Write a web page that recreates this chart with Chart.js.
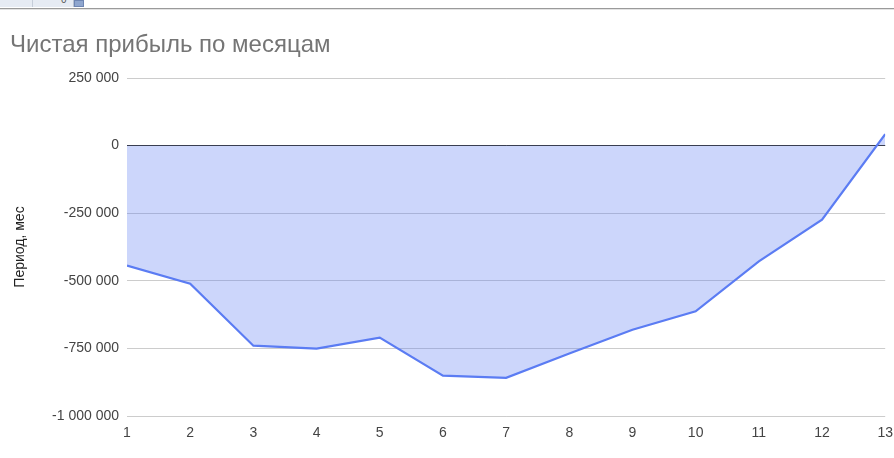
<!DOCTYPE html>
<html>
<head>
<meta charset="utf-8">
<script src="https://cdn.jsdelivr.net/npm/chart.js@4"></script>
<style>
  body { margin: 0; background: #fff; }
  #wrap { position: relative; width: 894px; height: 458px; overflow: hidden; }
  #cv { position: absolute; left: 0; top: 0; }
  /* scrap of the sheet toolbar above the chart */
  #bar { position: absolute; left: 0; top: 0; width: 73px; height: 7px; background: #e6ebf3; border-right: 1px solid #b9c3d3; }
  #bar .div1 { position: absolute; left: 32px; top: 0; width: 1px; height: 7px; background: #c5cdd9; }
  #bar .zero { position: absolute; left: 61px; top: -6px; font: 10px Arial; color: #555; }
  #knob { position: absolute; left: 74px; top: 0; width: 10px; height: 7px; background: #8fa6cf; border: 1px solid #6f86b3; box-sizing: border-box; }
  #rule { position: absolute; left: 0; top: 8px; width: 894px; height: 1px; background: #9a9a9a; }
  #rule2 { position: absolute; left: 0; top: 9px; width: 894px; height: 1px; background: #e3e3e3; }
  #title { position: absolute; left: 10px; top: 32px; font: 24px Arial, "Liberation Sans", sans-serif; color: #757575; line-height: 24px; }
</style>
</head>
<body>
<div id="wrap">
  <canvas id="cv" width="894" height="458"></canvas>
  <div id="bar"><div class="div1"></div><span class="zero">0</span></div>
  <div id="knob"></div>
  <div id="rule"></div>
  <div id="rule2"></div>
  <div id="title">Чистая прибыль по месяцам</div>
</div>
<script>
// months 1..13 and net profit per month
var months = [1, 2, 3, 4, 5, 6, 7, 8, 9, 10, 11, 12, 13];
var profit = [-444000, -511000, -740000, -751000, -710000, -851000, -859000, -769000, -681000, -613000, -428000, -274000, 42000];
var yTicks = [-1000000, -750000, -500000, -250000, 0, 250000];
var yTitle = "Период, мес";

function fmt(v) {
  var s = Math.abs(v).toString().replace(/\B(?=(\d{3})+(?!\d))/g, " ");
  return (v < 0 ? "-" : "") + s;
}

var points = months.map(function (m, i) { return { x: m, y: profit[i] }; });

var canvas = document.getElementById("cv");
new Chart(canvas, {
  type: "line",
  data: {
    datasets: [{
      data: points,
      borderColor: "#5b7cf3",
      backgroundColor: "rgba(95,127,242,0.32)",
      borderWidth: 2.2,
      pointRadius: 0,
      tension: 0,
      fill: "origin"
    }]
  },
  options: {
    responsive: false,
    animation: false,
    layout: { padding: { top: 78, right: 4, left: 0, bottom: 0 } },
    plugins: {
      legend: { display: false },
      tooltip: { enabled: false }
    },
    scales: {
      x: {
        type: "linear",
        min: 1,
        max: 13,
        afterFit: function (s) { s.height = 42; },
        afterBuildTicks: function (s) { s.ticks = months.map(function (m) { return { value: m }; }); },
        ticks: { color: "#444", font: { family: "Arial", size: 14 }, padding: 1, maxRotation: 0 },
        grid: { display: false },
        border: { display: false }
      },
      y: {
        min: -1000000,
        max: 250000,
        afterFit: function (s) { s.width = 127; },
        afterBuildTicks: function (s) { s.ticks = yTicks.map(function (v) { return { value: v }; }); },
        ticks: {
          color: "#444",
          font: { family: "Arial", size: 14 },
          padding: 8,
          callback: function (v) { return fmt(v); }
        },
        grid: {
          drawTicks: false,
          color: function (c) { return c.tick && c.tick.value === 0 ? "#333" : "#cccccc"; },
          lineWidth: 1
        },
        border: { display: false },
        title: {
          display: true,
          text: yTitle,
          color: "#222",
          font: { family: "Arial", size: 14 },
          padding: { top: 12, bottom: 0 }
        }
      }
    }
  }
});
</script>
</body>
</html>
